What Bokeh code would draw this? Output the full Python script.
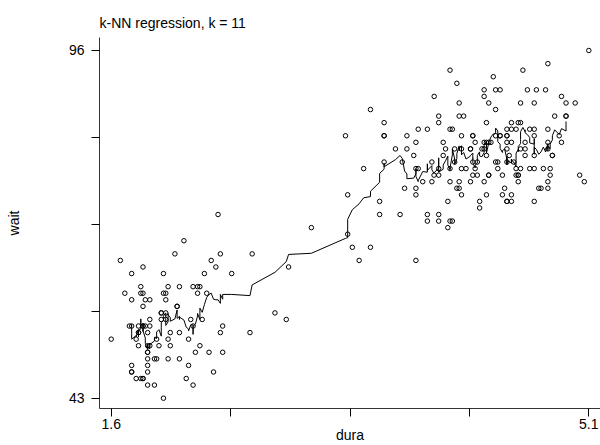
import numpy as np
from bokeh.plotting import figure
from bokeh.models import Range1d, FixedTicker
from bokeh.embed import file_html
from bokeh.resources import INLINE

# Old Faithful: eruption duration (min) and waiting time (min)
dura = [3.600, 1.800, 3.333, 2.283, 4.533, 2.883, 4.700, 3.600, 1.950, 4.350,
        1.833, 3.917, 4.200, 1.750, 4.700, 2.167, 1.750, 4.800, 1.600, 4.250,
        1.800, 1.750, 3.450, 3.067, 4.533, 3.600, 1.967, 4.083, 3.850, 4.433,
        4.300, 4.467, 3.367, 4.033, 3.833, 2.017, 1.867, 4.833, 1.833, 4.783,
        4.350, 1.883, 4.567, 1.750, 4.533, 3.317, 3.833, 2.100, 4.633, 2.000,
        4.800, 4.716, 1.833, 4.833, 1.733, 4.883, 3.717, 1.667, 4.567, 4.317,
        2.233, 4.500, 1.750, 4.800, 1.817, 4.400, 4.167, 4.700, 2.067, 4.700,
        4.033, 1.967, 4.500, 4.000, 1.983, 5.067, 2.017, 4.567, 3.883, 3.600,
        4.133, 4.333, 4.100, 2.633, 4.067, 4.933, 3.950, 4.517, 2.167, 4.000,
        2.200, 4.333, 1.867, 4.817, 1.833, 4.300, 4.667, 3.750, 1.867, 4.900,
        2.483, 4.367, 2.100, 4.500, 4.050, 1.867, 4.700, 1.783, 4.850, 3.683,
        4.733, 2.300, 4.900, 4.417, 1.700, 4.633, 2.317, 4.600, 1.817, 4.417,
        2.617, 4.067, 4.250, 1.967, 4.600, 3.767, 1.917, 4.500, 2.267, 4.650,
        1.867, 4.167, 2.800, 4.333, 1.833, 4.383, 1.883, 4.933, 2.033, 3.733,
        4.233, 2.233, 4.533, 4.817, 4.333, 1.983, 4.633, 2.017, 5.100, 1.800,
        5.033, 4.000, 2.400, 4.600, 3.567, 4.000, 4.500, 4.083, 1.800, 3.967,
        2.200, 4.150, 2.000, 3.833, 3.500, 4.583, 2.367, 5.000, 1.933, 4.617,
        1.917, 2.083, 4.583, 3.333, 4.167, 4.333, 4.500, 2.417, 4.000, 4.167,
        1.883, 4.583, 4.250, 3.767, 2.033, 4.433, 4.083, 1.833, 4.417, 2.183,
        4.800, 1.833, 4.800, 4.100, 3.966, 4.233, 3.500, 4.366, 2.250, 4.667,
        2.100, 4.350, 4.133, 1.867, 4.600, 1.783, 4.367, 3.850, 1.933, 4.500,
        2.383, 4.700, 1.867, 3.833, 3.417, 4.233, 2.400, 4.800, 2.000, 4.150,
        1.867, 4.267, 1.750, 4.483, 4.000, 4.117, 4.083, 4.267, 3.917, 4.550,
        4.083, 2.417, 4.183, 2.217, 4.450, 1.883, 1.850, 4.283, 3.950, 2.333,
        4.150, 2.350, 4.933, 2.900, 4.583, 3.833, 2.083, 4.367, 2.133, 4.350,
        2.200, 4.450, 3.567, 4.500, 4.150, 3.817, 3.917, 4.450, 2.000, 4.283,
        4.767, 4.533, 1.850, 4.250, 1.983, 2.250, 4.750, 4.117, 2.150, 4.417,
        1.817, 4.467]
wait = [79, 54, 74, 62, 85, 55, 88, 85, 51, 85, 54, 84, 78, 47, 83, 52, 62, 84, 52, 79,
        51, 47, 78, 69, 74, 83, 55, 76, 78, 79, 73, 77, 66, 80, 74, 52, 48, 80, 59, 90,
        80, 58, 84, 58, 73, 83, 64, 53, 82, 59, 75, 90, 54, 80, 54, 83, 71, 64, 77, 81,
        59, 84, 48, 82, 60, 92, 78, 78, 65, 73, 82, 56, 79, 71, 62, 76, 60, 78, 76, 83,
        75, 82, 70, 65, 73, 88, 76, 80, 48, 86, 60, 90, 50, 78, 63, 72, 84, 75, 51, 82,
        62, 88, 49, 83, 81, 47, 84, 52, 86, 81, 75, 59, 89, 79, 59, 81, 50, 85, 59, 87,
        53, 69, 77, 56, 88, 81, 45, 82, 55, 90, 45, 83, 56, 89, 46, 82, 51, 86, 53, 79,
        81, 60, 82, 77, 76, 59, 80, 49, 96, 53, 77, 77, 65, 81, 71, 70, 81, 93, 53, 89,
        45, 86, 58, 78, 66, 76, 63, 88, 52, 93, 49, 57, 77, 68, 81, 81, 73, 50, 85, 74,
        55, 77, 83, 83, 51, 78, 84, 46, 83, 55, 81, 57, 76, 84, 77, 81, 87, 77, 51, 78,
        60, 82, 91, 53, 78, 46, 77, 84, 49, 83, 71, 80, 49, 75, 64, 76, 53, 94, 55, 76,
        50, 82, 54, 75, 78, 79, 78, 78, 70, 79, 70, 54, 86, 50, 90, 54, 54, 77, 79, 64,
        75, 47, 86, 63, 85, 82, 57, 82, 67, 74, 54, 83, 73, 73, 88, 80, 71, 83, 56, 79,
        78, 84, 58, 83, 43, 60, 75, 81, 46, 90, 46, 74]

k = 11
title = "k-NN regression, k = 11"
x_name = "dura"
y_name = "wait"
x_ticks = [1.6, 2.475, 3.35, 4.225, 5.1]
x_labels = {1.6: "1.6", 5.1: "5.1"}
y_ticks = [43, 56.25, 69.5, 82.75, 96]
y_labels = {43: "43", 96: "96"}

# k-NN (centered running mean of k neighbours in sorted order)
xs = np.asarray(dura, dtype=float)
ys = np.asarray(wait, dtype=float)
order = np.argsort(xs, kind="stable")
xs_s, ys_s = xs[order], ys[order]
h = k // 2
fit_x = xs_s[h:len(xs_s) - h]
fit_y = np.convolve(ys_s, np.ones(k) / k, mode="valid")

FONT = "Liberation Sans"
FS = "14px"

p = figure(width=600, height=445, output_backend="svg", toolbar_location=None,
           x_range=Range1d(1.5143, 5.1857), y_range=Range1d(41.43, 97.98),
           min_border_left=99, min_border_right=0, min_border_top=37, min_border_bottom=37)
p.outline_line_color = None
p.grid.visible = False
p.background_fill_color = "white"
p.border_fill_color = "white"

p.title.text = title
p.title.text_font = FONT
p.title.text_font_size = FS
p.title.text_font_style = "normal"
p.title.text_color = "black"
p.title.align = "left"
p.title.offset = 0
p.title.standoff = 14

p.scatter(dura, wait, marker="circle", size=4.5, fill_color=None,
          line_color="black", line_width=1)
p.line(fit_x, fit_y, line_color="black", line_width=1)

for ax, ticks, labels, name in ((p.xaxis[0], x_ticks, x_labels, x_name),
                                (p.yaxis[0], y_ticks, y_labels, y_name)):
    ax.ticker = FixedTicker(ticks=ticks)
    ax.major_label_overrides = {t: labels.get(t, "") for t in ticks}
    ax.minor_tick_line_color = None
    ax.major_tick_in = 0
    ax.major_tick_out = 8
    ax.axis_line_color = "#333333"
    ax.major_tick_line_color = "black"
    ax.major_label_text_font = FONT
    ax.major_label_text_font_size = FS
    ax.major_label_text_color = "black"
    ax.axis_label = name
    ax.axis_label_text_font = FONT
    ax.axis_label_text_font_size = FS
    ax.axis_label_text_font_style = "normal"
    ax.axis_label_text_color = "black"

p.xaxis.major_label_standoff = 2
p.xaxis.axis_label_standoff = -5
p.yaxis.major_label_standoff = 7
p.yaxis.major_label_orientation = "horizontal"
p.yaxis.axis_label_standoff = 44

open("out.html", "w").write(file_html(p, INLINE))
